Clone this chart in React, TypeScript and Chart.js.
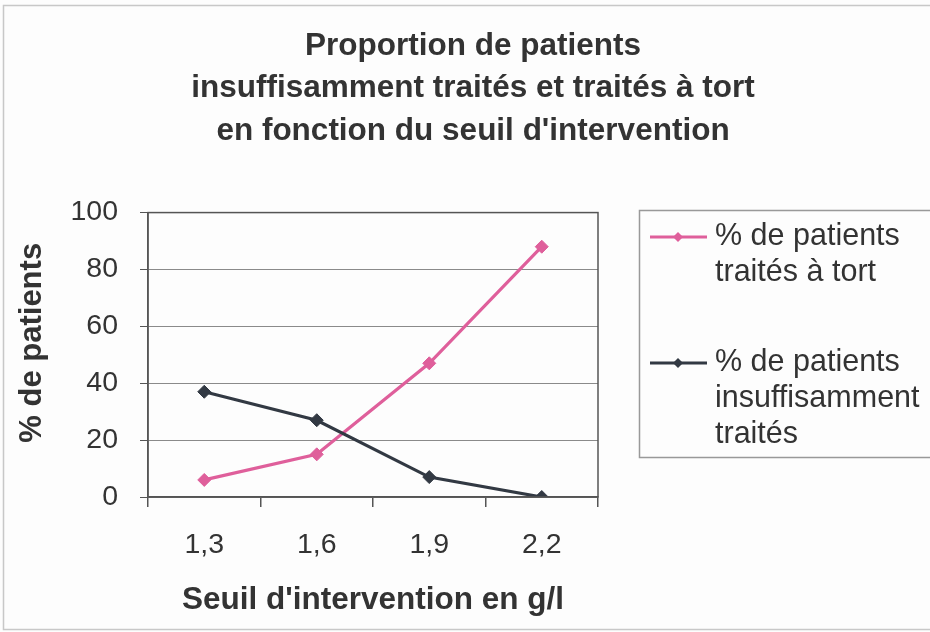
import React, { useEffect, useRef } from "react";
import { Chart, registerables } from "chart.js";

Chart.register(...registerables);

const titleLines = [
  "Proportion de patients",
  "insuffisamment traités et traités à tort",
  "en fonction du seuil d'intervention",
];
const categories = ["1,3", "1,6", "1,9", "2,2"];
const wronglyTreated = [6, 15, 47, 88];
const underTreated = [37, 27, 7, 0];
const seriesLabels = [
  ["% de patients", "traités à tort"],
  ["% de patients", "insuffisamment", "traités"],
];
const yTicks = [0, 20, 40, 60, 80, 100];
const xTitle = "Seuil d'intervention en g/l";
const yTitle = "% de patients";

const PINK = "#df5f9b";
const DARK = "#323943";
const TEXT = "#333333";
const FONT = "'Liberation Sans', Arial, sans-serif";

const framePlugin = {
  id: "framePlugin",
  beforeDraw(chart: any) {
    const { ctx } = chart;
    ctx.save();
    ctx.fillStyle = "#fdfdfd";
    ctx.fillRect(0, 0, chart.width, chart.height);
    ctx.strokeStyle = "#c8c8c8";
    ctx.lineWidth = 1.5;
    ctx.strokeRect(3.5, 5.5, chart.width + 20, chart.height - 8);
    ctx.restore();
  },
  afterDatasetsDraw(chart: any) {
    const { ctx, chartArea } = chart;
    ctx.save();
    ctx.strokeStyle = "#555555";
    ctx.lineWidth = 1.5;
    ctx.strokeRect(chartArea.left, chartArea.top, chartArea.right - chartArea.left, chartArea.bottom - chartArea.top);
    ctx.restore();
  },
  afterDraw(chart: any) {
    const { ctx, chartArea } = chart;
    ctx.save();
    // y axis title
    ctx.fillStyle = TEXT;
    ctx.font = `bold 31px ${FONT}`;
    ctx.textAlign = "center";
    ctx.textBaseline = "middle";
    ctx.translate(32, (chartArea.top + chartArea.bottom) / 2 - 12);
    ctx.rotate(-Math.PI / 2);
    ctx.fillText(yTitle, 0, 0);
    ctx.restore();

    ctx.save();
    // legend box
    ctx.strokeStyle = "#999999";
    ctx.lineWidth = 1.5;
    ctx.strokeRect(639.5, 210.5, 320, 247);
    const entryY = [237, 363];
    const lineGap = 36;
    ctx.font = `30.5px ${FONT}`;
    ctx.textBaseline = "middle";
    ctx.textAlign = "left";
    chart.data.datasets.forEach((ds: any, i: number) => {
      const y = entryY[i];
      ctx.strokeStyle = ds.borderColor;
      ctx.lineWidth = 3;
      ctx.beginPath();
      ctx.moveTo(650, y);
      ctx.lineTo(707, y);
      ctx.stroke();
      ctx.fillStyle = ds.backgroundColor;
      ctx.beginPath();
      ctx.moveTo(678, y - 5);
      ctx.lineTo(683, y);
      ctx.lineTo(678, y + 5);
      ctx.lineTo(673, y);
      ctx.closePath();
      ctx.fill();
      ctx.fillStyle = TEXT;
      seriesLabels[i].forEach((t, j) => {
        ctx.fillText(t, 715, y + j * lineGap);
      });
    });
    ctx.restore();
  },
};

export default function App() {
  const ref = useRef<HTMLCanvasElement | null>(null);
  useEffect(() => {
    document.body.style.margin = "0";
    const chart = new Chart(ref.current as HTMLCanvasElement, {
      type: "line",
      data: {
        labels: categories,
        datasets: [
          {
            label: seriesLabels[0].join(" "),
            data: wronglyTreated,
            borderColor: PINK,
            backgroundColor: PINK,
            borderWidth: 3.2,
            pointStyle: "rectRot",
            pointRadius: 6.5,
            pointBorderWidth: 1,
            tension: 0,
            order: 2,
          },
          {
            label: seriesLabels[1].join(" "),
            data: underTreated,
            borderColor: DARK,
            backgroundColor: DARK,
            borderWidth: 3.2,
            pointStyle: "rectRot",
            pointRadius: 6.5,
            pointBorderWidth: 1,
            tension: 0,
            order: 1,
          },
        ],
      },
      options: {
        animation: false,
        responsive: false,
        devicePixelRatio: 1,
        layout: { padding: { left: 16, right: 0, top: 0, bottom: 0 } },
        plugins: {
          legend: { display: false },
          tooltip: { enabled: false },
          title: {
            display: true,
            text: titleLines,
            color: TEXT,
            font: { family: FONT, size: 31.5, weight: "bold", lineHeight: 1.35 },
            padding: { top: 25, bottom: 60 },
          },
        },
        scales: {
          x: {
            type: "category",
            offset: true,
            grid: {
              offset: true,
              drawOnChartArea: false,
              drawTicks: true,
              tickLength: 10,
              color: "#555555",
              lineWidth: 1.5,
            },
            border: { display: true, color: "#555555", width: 1.5 },
            ticks: {
              color: TEXT,
              font: { family: FONT, size: 28.5 },
              padding: 21,
              maxRotation: 0,
            },
            title: {
              display: true,
              text: xTitle,
              color: TEXT,
              font: { family: FONT, size: 31.5, weight: "bold", lineHeight: 1.2 },
              padding: { top: 0, bottom: 13 },
            },
            afterFit: (s: any) => {
              s.height = 135;
            },
          },
          y: {
            min: 0,
            max: 100,
            afterBuildTicks: (s: any) => {
              s.ticks = yTicks.map((v) => ({ value: v }));
            },
            grid: {
              color: "#8a8a8a",
              lineWidth: 1,
              drawTicks: true,
              tickLength: 8,
              tickColor: "#555555",
            },
            border: { display: true, color: "#555555", width: 1.5 },
            ticks: {
              color: TEXT,
              font: { family: FONT, size: 28.5 },
              padding: 22,
            },
            title: { display: false },
            afterFit: (s: any) => {
              s.width = 132;
            },
          },
          y2: {
            position: "right",
            display: true,
            grid: { display: false, drawTicks: false },
            border: { display: false },
            ticks: { display: false },
            afterFit: (s: any) => {
              s.width = 332;
            },
          },
        },
      },
      plugins: [framePlugin],
    });
    return () => chart.destroy();
  }, []);
  return <canvas ref={ref} width={930} height={632} style={{ display: "block" }} />;
}
